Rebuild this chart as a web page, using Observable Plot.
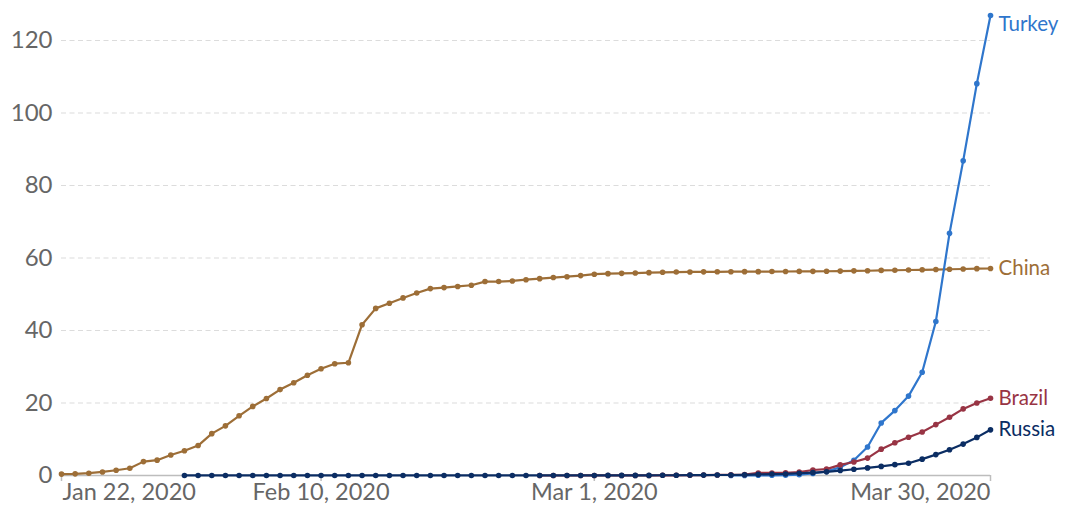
<!DOCTYPE html>
<html><head><meta charset="utf-8">
<script src="https://cdn.jsdelivr.net/npm/d3@7"></script>
<script src="https://cdn.jsdelivr.net/npm/@observablehq/plot@0.6"></script>
<style>body{margin:0;background:#fff;}</style>
</head><body><div id="chart"></div>
<script>
// Confirmed COVID-19 cases per million, daily
const countries = ["China", "Turkey", "Brazil", "Russia"];
const countryColors = ["#9d6e37", "#2f76cc", "#983444", "#0b2d63"];

const chinaStart = "2020-01-22";
const chinaValues = [0.38,0.45,0.64,0.98,1.44,2.0,3.83,4.23,5.66,6.81,8.26,11.55,13.7,16.47,19.06,21.25,23.7,25.58,27.67,29.43,30.84,31.1,41.59,46.1,47.53,48.99,50.33,51.56,51.84,52.16,52.49,53.5,53.51,53.67,54.02,54.31,54.61,54.84,55.14,55.53,55.68,55.77,55.85,55.96,56.06,56.12,56.16,56.18,56.2,56.22,56.23,56.24,56.26,56.28,56.3,56.32,56.35,56.39,56.45,56.49,56.58,56.62,56.69,56.74,56.82,56.9,56.97,57.06,57.11];

const russiaStart = "2020-01-31";
const russiaValues = [0.014,0.014,0.014,0.014,0.014,0.014,0.014,0.014,0.014,0.014,0.014,0.014,0.014,0.014,0.014,0.014,0.014,0.014,0.014,0.014,0.014,0.014,0.014,0.014,0.014,0.014,0.014,0.014,0.014,0.014,0.014,0.021,0.021,0.021,0.027,0.069,0.069,0.117,0.117,0.137,0.137,0.192,0.308,0.404,0.432,0.617,0.78,1.01,1.36,1.73,2.1,2.51,3.0,3.39,4.51,5.76,7.1,8.66,10.51,12.6];

const brazilStart = "2020-02-26";
const brazilValues = [0.005,0.005,0.005,0.009,0.009,0.009,0.009,0.019,0.019,0.061,0.061,0.094,0.118,0.146,0.179,0.245,0.71,0.71,0.76,0.94,1.51,1.75,2.92,3.73,4.8,7.27,9.05,10.57,12.02,14.04,16.08,18.37,20.02,21.3];

const turkeyStart = "2020-03-11";
const turkeyValues = [0.012,0.012,0.059,0.059,0.07,0.21,0.55,1.15,2.25,4.2,7.85,14.5,17.9,21.9,28.5,42.5,66.8,86.8,108.1,126.9];

const xTickDates = ["2020-01-22", "2020-02-10", "2020-03-01", "2020-03-30"];
const xTickLabels = ["Jan 22, 2020", "Feb 10, 2020", "Mar 1, 2020", "Mar 30, 2020"];
const yTicks = [0, 20, 40, 60, 80, 100, 120];

const series = {China: [chinaStart, chinaValues], Turkey: [turkeyStart, turkeyValues], Brazil: [brazilStart, brazilValues], Russia: [russiaStart, russiaValues]};
const rows = countries.flatMap(c => {
  const [start, vals] = series[c];
  const s = new Date(start + "T00:00:00Z");
  return vals.map((v, i) => ({country: c, date: d3.utcDay.offset(s, i), value: v}));
});
const lastRows = countries.map(c => rows.filter(r => r.country === c).at(-1));
const ticks = xTickDates.map((d, i) => ({date: new Date(d + "T00:00:00Z"), label: xTickLabels[i], i}));
const yMax = d3.max(rows, r => r.value);

const chart = Plot.plot({
  width: 1065,
  height: 506,
  marginLeft: 61,
  marginRight: 75,
  marginTop: 15,
  marginBottom: 31,
  style: {fontFamily: "Lato, sans-serif", color: "#666", background: "#fff"},
  x: {type: "utc", domain: [ticks[0].date, ticks.at(-1).date]},
  y: {domain: [0, yMax]},
  color: {domain: countries, range: countryColors},
  marks: [
    Plot.ruleY(yTicks.filter(d => d > 0), {stroke: "#dcdcdc", strokeDasharray: "5,3.5", strokeWidth: 1.2}),
    Plot.ruleY([0], {stroke: "#bdbdbd", strokeWidth: 1.5}),
    Plot.axisX({ticks: ticks.map(t => t.date), tickSize: 6, tickFormat: () => "", stroke: "#bdbdbd", strokeWidth: 1.5, label: null}),
    Plot.axisY({ticks: yTicks, tickSize: 0, tickPadding: 9, fontSize: 24, tickFormat: d3.format("d"), fill: "#666", label: null}),
    Plot.text(ticks.filter(t => t.i === 0), {x: "date", text: "label", frameAnchor: "bottom", dy: 24, textAnchor: "start", dx: 1, fontSize: 23.5, fill: "#666"}),
    Plot.text(ticks.filter(t => t.i > 0 && t.i < ticks.length - 1), {x: "date", text: "label", frameAnchor: "bottom", dy: 24, textAnchor: "middle", fontSize: 23.5, fill: "#666"}),
    Plot.text(ticks.filter(t => t.i === ticks.length - 1), {x: "date", text: "label", frameAnchor: "bottom", dy: 24, textAnchor: "end", fontSize: 23.5, fill: "#666"}),
    ...countries.flatMap(c => [
      Plot.line(rows.filter(r => r.country === c), {x: "date", y: "value", stroke: "country", strokeWidth: 2.2}),
      Plot.dot(rows.filter(r => r.country === c), {x: "date", y: "value", fill: "country", r: 2.8})
    ]),
    Plot.text(lastRows.filter(r => r.country !== "Turkey"), {x: "date", y: "value", text: "country", fill: "country", textAnchor: "start", dx: 8, fontSize: 20.5}),
    Plot.text(lastRows.filter(r => r.country === "Turkey"), {x: "date", y: "value", text: "country", fill: "country", textAnchor: "start", dx: 8, dy: 9, fontSize: 20.5})
  ]
});
document.getElementById("chart").appendChild(chart);
</script>
</body></html>
